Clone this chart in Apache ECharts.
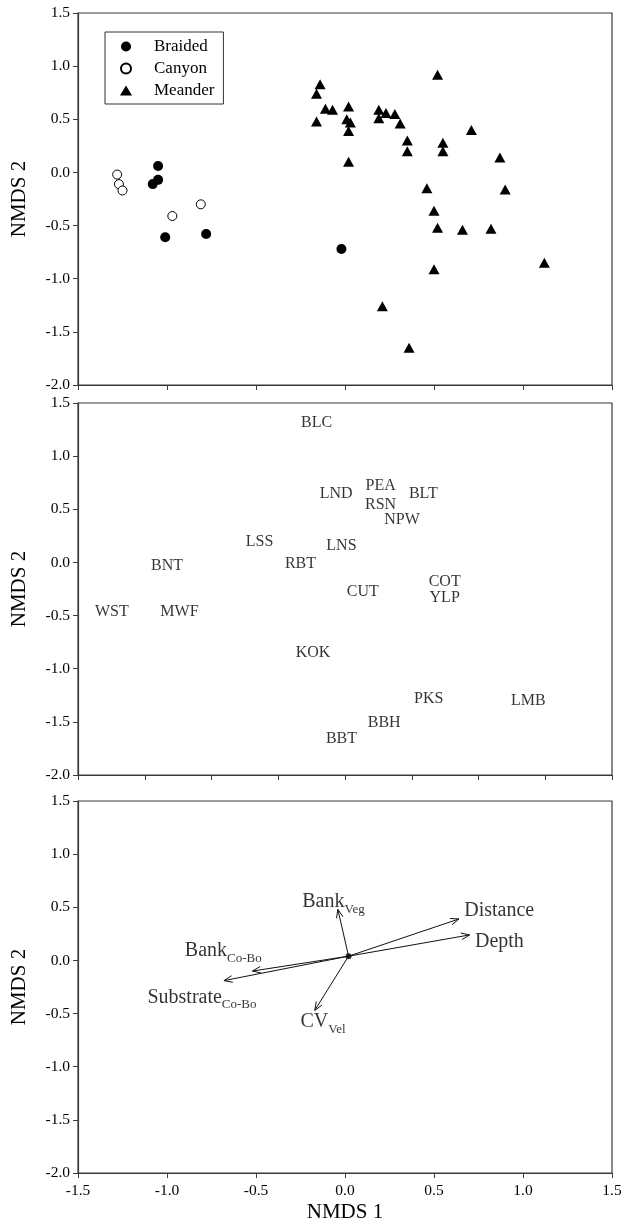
<!DOCTYPE html>
<html>
<head>
<meta charset="utf-8">
<script src="https://cdn.jsdelivr.net/npm/echarts@6/dist/echarts.min.js"></script>
<style>
html,body{margin:0;padding:0;background:#fff;}
#chart{width:622px;height:1229px;}
</style>
</head>
<body>
<div id="chart"></div>
<script>
// ---------- Panel 1: sites (NMDS scores) ----------
const braidedX = [-1.05, -1.05, -1.08, -1.01, -0.78, -0.02];
const braidedY = [0.06, -0.07, -0.11, -0.61, -0.58, -0.72];
const canyonX = [-1.28, -1.27, -1.25, -0.97, -0.81];
const canyonY = [-0.02, -0.11, -0.17, -0.41, -0.30];
const meanderX = [-0.14, -0.16, -0.11, -0.07, -0.16, 0.02, 0.01, 0.03, 0.02, 0.02,
  0.19, 0.19, 0.23, 0.28, 0.31, 0.35, 0.35, 0.52, 0.55, 0.55,
  0.71, 0.87, 0.90, 0.46, 0.50, 0.52, 0.66, 0.82, 0.50, 1.12,
  0.21, 0.36];
const meanderY = [0.83, 0.74, 0.60, 0.59, 0.48, 0.62, 0.50, 0.47, 0.39, 0.10,
  0.59, 0.51, 0.56, 0.55, 0.46, 0.30, 0.20, 0.92, 0.28, 0.20,
  0.40, 0.14, -0.16, -0.15, -0.36, -0.52, -0.54, -0.53, -0.91, -0.85,
  -1.26, -1.65];

// ---------- Panel 2: species scores ----------
const speciesNames = ['BLC', 'LND', 'PEA', 'RSN', 'BLT', 'NPW', 'LNS', 'RBT', 'LSS', 'BNT',
  'WST', 'MWF', 'KOK', 'CUT', 'COT', 'YLP', 'PKS', 'LMB', 'BBH', 'BBT'];
const speciesX = [-0.16, -0.05, 0.20, 0.20, 0.44, 0.32, -0.02, -0.25, -0.48, -1.00,
  -1.31, -0.93, -0.18, 0.10, 0.56, 0.56, 0.47, 1.03, 0.22, -0.02];
const speciesY = [1.31, 0.65, 0.72, 0.54, 0.65, 0.40, 0.16, -0.01, 0.19, -0.03,
  -0.46, -0.46, -0.85, -0.28, -0.18, -0.33, -1.28, -1.30, -1.51, -1.66];

// ---------- Panel 3: environmental vectors ----------
const vectorOrigin = [0.02, 0.04];
const vectorMain = ['Bank', 'Distance', 'Depth', 'Bank', 'Substrate', 'CV'];
const vectorSub = ['Veg', '', '', 'Co-Bo', 'Co-Bo', 'Vel'];
const vectorTipX = [-0.04, 0.64, 0.70, -0.52, -0.68, -0.17];
const vectorTipY = [0.48, 0.39, 0.24, -0.10, -0.19, -0.47];
const vectorLabelX = [-0.24, 0.67, 0.73, -0.90, -1.11, -0.25];
const vectorLabelY = [0.57, 0.49, 0.19, 0.11, -0.33, -0.56];

// ---------- Axis ticks ----------
const axisMin = -1.5, axisMax = 1.5;
const yMin = -2.0, yMax = 1.5;

const FONT = '"Liberation Serif", "Times New Roman", serif';
const AX = '#3a3a3a';

const chart = echarts.init(document.getElementById('chart'), null, {renderer: 'canvas'});

const grids = [
  {left: 78, right: 10, top: 13, height: 372},
  {left: 78, right: 10, top: 403, height: 372},
  {left: 78, right: 10, top: 801, height: 372}
].map(g => Object.assign(g, {show: true, borderColor: AX, borderWidth: 1.2, backgroundColor: 'transparent',
  containLabel: false, outerBoundsMode: 'none'}));

function xAxisFor(i, interval, showLabels) {
  return {
    type: 'value', gridIndex: i, min: axisMin, max: axisMax, interval: interval,
    axisLine: {show: true, onZero: false, lineStyle: {color: AX, width: 1.2}},
    axisTick: {show: true, length: 5, lineStyle: {color: AX, width: 1}},
    splitLine: {show: false},
    axisLabel: {show: showLabels, color: '#000', fontFamily: FONT, fontSize: 15.5, margin: 10,
      formatter: v => v.toFixed(1)},
    name: showLabels ? 'NMDS 1' : '',
    nameLocation: 'middle', nameGap: 29,
    nameTextStyle: {color: '#000', fontFamily: FONT, fontSize: 21}
  };
}
function yAxisFor(i) {
  return {
    type: 'value', gridIndex: i, min: yMin, max: yMax, interval: 0.5,
    axisLine: {show: true, onZero: false, lineStyle: {color: AX, width: 1.2}},
    axisTick: {show: true, length: 5, lineStyle: {color: AX, width: 1}},
    splitLine: {show: false},
    axisLabel: {color: '#000', fontFamily: FONT, fontSize: 15.5, margin: 8,
      formatter: v => v.toFixed(1)},
    name: 'NMDS 2', nameLocation: 'middle', nameGap: 48,
    nameTextStyle: {color: '#000', fontFamily: FONT, fontSize: 21}
  };
}

const zip = (xs, ys) => xs.map((x, i) => [x, ys[i]]);

const arrowData = vectorTipX.map((x, i) => [vectorOrigin[0], vectorOrigin[1], x, vectorTipY[i]]);
const vecLabelData = vectorLabelX.map((x, i) => ({
  value: [x, vectorLabelY[i]],
  name: vectorSub[i] ? '{m|' + vectorMain[i] + '}{s|' + vectorSub[i] + '}' : '{m|' + vectorMain[i] + '}'
}));

const option = {
  backgroundColor: '#fff',
  animation: false,
  grid: grids,
  xAxis: [xAxisFor(0, 0.5, false), xAxisFor(1, 0.375, false), xAxisFor(2, 0.5, true)],
  yAxis: [yAxisFor(0), yAxisFor(1), yAxisFor(2)],
  legend: {
    show: true, orient: 'vertical', left: 105, top: 32,
    data: [{name: 'Braided', icon: 'circle'}, {name: 'Canyon', icon: 'circle'}, {name: 'Meander', icon: 'triangle'}],
    itemWidth: 12, itemHeight: 10, itemGap: 5,
    padding: [6, 9, 5, 15],
    borderColor: '#333', borderWidth: 1,
    textStyle: {color: '#000', fontFamily: FONT, fontSize: 17, padding: [0, 0, 0, 17]},
    selectedMode: false
  },
  series: [
    {name: 'Braided', type: 'scatter', xAxisIndex: 0, yAxisIndex: 0, symbol: 'circle', symbolSize: 10,
      itemStyle: {color: '#000', opacity: 1}, data: zip(braidedX, braidedY)},
    {name: 'Canyon', type: 'scatter', xAxisIndex: 0, yAxisIndex: 0, symbol: 'circle', symbolSize: 9,
      itemStyle: {color: '#fff', borderColor: '#000', borderWidth: 1, opacity: 1}, data: zip(canyonX, canyonY)},
    {name: 'Meander', type: 'scatter', xAxisIndex: 0, yAxisIndex: 0, symbol: 'triangle', symbolSize: [11, 10],
      itemStyle: {color: '#000', opacity: 1}, data: zip(meanderX, meanderY)},
    {name: 'species', type: 'scatter', xAxisIndex: 1, yAxisIndex: 1, symbolSize: 1,
      itemStyle: {color: 'rgba(0,0,0,0)'},
      label: {show: true, position: 'inside', formatter: '{b}', color: '#000', fontFamily: FONT, fontSize: 16,
        textBorderWidth: 0},
      data: speciesX.map((x, i) => ({value: [x, speciesY[i]], name: speciesNames[i]}))},
    {name: 'vectors', type: 'custom', xAxisIndex: 2, yAxisIndex: 2,
      encode: {x: [0, 2], y: [1, 3]},
      renderItem: function (params, api) {
        const o = api.coord([api.value(0), api.value(1)]);
        const t = api.coord([api.value(2), api.value(3)]);
        const ang = Math.atan2(t[1] - o[1], t[0] - o[0]);
        const L = 9, a = 0.38;
        const h1 = [t[0] - L * Math.cos(ang - a), t[1] - L * Math.sin(ang - a)];
        const h2 = [t[0] - L * Math.cos(ang + a), t[1] - L * Math.sin(ang + a)];
        return {type: 'group', children: [
          {type: 'line', shape: {x1: o[0], y1: o[1], x2: t[0], y2: t[1]}, style: {stroke: '#111', lineWidth: 1}},
          {type: 'polyline', shape: {points: [h1, t, h2]}, style: {stroke: '#111', fill: null, lineWidth: 1}}
        ]};
      },
      data: arrowData},
    {name: 'origin', type: 'scatter', xAxisIndex: 2, yAxisIndex: 2, symbol: 'circle', symbolSize: 6,
      itemStyle: {color: '#000'}, data: [vectorOrigin], z: 5},
    {name: 'vecLabels', type: 'scatter', xAxisIndex: 2, yAxisIndex: 2, symbolSize: 1,
      itemStyle: {color: 'rgba(0,0,0,0)'},
      label: {show: true, position: 'inside', align: 'left', verticalAlign: 'middle', formatter: '{b}',
        color: '#000', fontFamily: FONT, offset: [0, 5], textBorderWidth: 0,
        rich: {
          m: {fontSize: 20, fontFamily: FONT, color: '#000', lineHeight: 22, verticalAlign: 'bottom', padding: [0, 0, 4, 0]},
          s: {fontSize: 13, fontFamily: FONT, color: '#000', lineHeight: 13, verticalAlign: 'bottom'}
        }},
      data: vecLabelData}
  ]
};
chart.setOption(option);
</script>
</body>
</html>
